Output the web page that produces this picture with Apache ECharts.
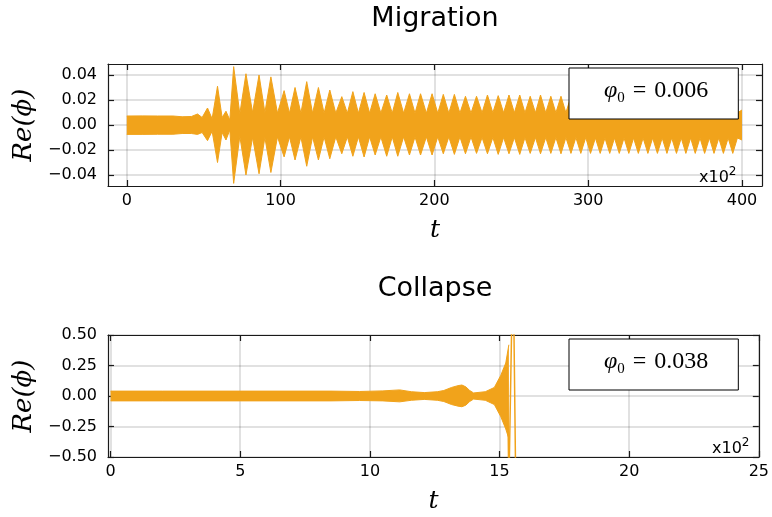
<!DOCTYPE html>
<html>
<head>
<meta charset="utf-8">
<script src="https://cdn.jsdelivr.net/npm/echarts@6/dist/echarts.min.js"></script>
<style>
  html, body { margin: 0; padding: 0; background: #fff; }
  #chart { width: 772px; height: 517px; }
</style>
</head>
<body>
<div id="chart"></div>
<script>
// t in units of 1e2, envelope of Re(phi) (peaks and troughs)
const migT = [0, 10, 20, 30, 36, 42, 46, 49, 52.5, 55.5, 59, 62, 64.5, 67, 69.5, 73.5, 77.5, 81.8, 86, 89.8,
  93.7, 98, 102.3, 105.8, 109.4, 113.2, 117, 120.8, 124.6, 128.3, 132, 135.9, 139.8, 143.4, 147, 150.6,
  154.3, 157.9, 161.5, 165.2, 169, 172.6, 176.2, 180, 183.8, 187.4, 191, 194.8, 198.5, 202.2, 205.8, 209.4,
  213, 216.6, 220.2, 223.8, 227.4, 231, 234.5, 238, 241.5, 245, 248.5, 252, 255.5, 258.9, 262.3, 265.7,
  269, 272.4, 275.7, 279, 282.3, 285.5, 288.8, 292, 295.2, 298.4, 301.5, 304.7, 307.8, 310.9, 314, 317.1,
  320.2, 323.3, 326.4, 329.5, 332.6, 335.7, 338.8, 341.9, 345, 348.1, 351.2, 354.3, 357.4, 360.5, 363.5,
  366.6, 369.6, 372.7, 375.7, 378.8, 381.8, 384.9, 387.9, 391, 394, 397, 400];
const migHi = [0.0072, 0.0073, 0.0072, 0.0072, 0.0066, 0.0068, 0.0088, 0.006, 0.0136, 0.005, 0.031, 0.006,
  0.011, 0.004, 0.0467, 0.009, 0.041, 0.01, 0.040, 0.01, 0.0385, 0.0095, 0.0275, 0.0095, 0.030, 0.0095,
  0.0347, 0.0095, 0.030, 0.0095, 0.028, 0.0095, 0.0227, 0.0095, 0.0267, 0.0095, 0.026, 0.0095, 0.025, 0.0095,
  0.024, 0.0095, 0.026, 0.0095, 0.025, 0.0095, 0.025, 0.0095, 0.025, 0.0095, 0.0245, 0.0095, 0.0245, 0.0095,
  0.023, 0.0095, 0.023, 0.0098, 0.024, 0.0098, 0.0235, 0.0098, 0.024, 0.0098, 0.024, 0.0098, 0.023, 0.0098,
  0.024, 0.0098, 0.023, 0.0098, 0.023, 0.0098, 0.023, 0.0098, 0.023, 0.0098, 0.023, 0.0098, 0.023, 0.0098,
  0.023, 0.0098, 0.023, 0.0098, 0.023, 0.0098, 0.023, 0.0098, 0.023, 0.0098, 0.023, 0.0098, 0.023, 0.0098,
  0.023, 0.0098, 0.023, 0.0098, 0.023, 0.0098, 0.023, 0.0098, 0.023, 0.0098, 0.023, 0.0098, 0.023, 0.0098, 0.012];
const migLo = [-0.0075, -0.0075, -0.0074, -0.0074, -0.0068, -0.0068, -0.0075, -0.006, -0.0125, -0.005, -0.030, -0.006,
  -0.012, -0.004, -0.0467, -0.009, -0.040, -0.01, -0.039, -0.01, -0.038, -0.0095, -0.0255, -0.0095, -0.028, -0.0095,
  -0.033, -0.0095, -0.028, -0.0095, -0.027, -0.0095, -0.023, -0.0095, -0.025, -0.0095, -0.0256, -0.0095, -0.024, -0.0095,
  -0.025, -0.0095, -0.025, -0.0095, -0.024, -0.0095, -0.024, -0.0095, -0.024, -0.0095, -0.023, -0.0095, -0.0235, -0.0095,
  -0.023, -0.0095, -0.0227, -0.0100, -0.023, -0.0100, -0.0235, -0.0100, -0.023, -0.0100, -0.0235, -0.0100, -0.0227, -0.0100,
  -0.023, -0.0100, -0.0227, -0.0100, -0.023, -0.0100, -0.0227, -0.0100, -0.0227, -0.0100, -0.0227, -0.0104, -0.0227, -0.0104,
  -0.0227, -0.0104, -0.0227, -0.0104, -0.0227, -0.0104, -0.0227, -0.0104, -0.0227, -0.0104, -0.0227, -0.0104, -0.0227, -0.0104,
  -0.0227, -0.0104, -0.0227, -0.0104, -0.0227, -0.0104, -0.0227, -0.0104, -0.0227, -0.0104, -0.0227, -0.0104, -0.0227, -0.0104, -0.012];

const colT  = [0, 2, 5, 8.5, 9.6, 10.5, 11.15, 11.6, 12.1, 12.6, 12.85, 13.15, 13.4, 13.55, 13.7, 13.85, 14.0,
  14.45, 14.8, 15.05, 15.24, 15.36];
const colHi = [0.04, 0.04, 0.04, 0.04, 0.037, 0.042, 0.05, 0.035, 0.028, 0.035, 0.045, 0.07, 0.085, 0.09, 0.075,
  0.045, 0.025, 0.035, 0.07, 0.17, 0.27, 0.42];
const colLo = [-0.04, -0.04, -0.04, -0.04, -0.037, -0.04, -0.048, -0.035, -0.028, -0.035, -0.045, -0.07, -0.083,
  -0.088, -0.075, -0.045, -0.025, -0.035, -0.07, -0.17, -0.27, -0.35];
// last swings, leaving the frame
const blowT = [15.30, 15.36, 15.52, 15.64];
const blowV = [0.3, -0.75, 1.2, -1.0];

const migTicksX = [0, 100, 200, 300, 400];
const migTicksY = [-0.04, -0.02, 0, 0.02, 0.04];
const colTicksX = [0, 5, 10, 15, 20, 25];
const colTicksY = [-0.5, -0.25, 0, 0.25, 0.5];

const ORANGE = "#f1a31b";
const GRID = "rgba(0,0,0,0.16)";
const AXIS = "#1a1a1a";
const SANS = "DejaVu Sans";
const SERIF = "DejaVu Serif";

const fmtY = (v) => {
  const r = Math.round(v * 100) / 100;
  if (Math.abs(r) < 1e-9) return "0.00";
  return r.toFixed(2).replace("-", "\u2212");
};

const tickStyle = { show: true, inside: true, length: 6, lineStyle: { color: AXIS, width: 1.2 } };
const lineStyle = { show: true, onZero: false, lineStyle: { color: AXIS, width: 1.2 } };

function xAxes(gridIndex, min, max, ticks) {
  return [{
    gridIndex, type: "value", position: "bottom", min, max,
    axisLine: lineStyle,
    axisTick: { ...tickStyle, customValues: ticks },
    axisLabel: { customValues: ticks, margin: 7, color: "#000", fontFamily: SANS, fontSize: 16,
      formatter: (v) => String(Math.round(v)) },
    splitLine: { show: true, lineStyle: { color: GRID, width: 1.5 } },
    name: "t", nameLocation: "middle", nameGap: 32,
    nameTextStyle: { fontFamily: SERIF, fontStyle: "italic", fontSize: 25, color: "#000" },
  }, {
    gridIndex, type: "value", position: "top", min, max,
    axisLine: lineStyle,
    axisTick: { ...tickStyle, customValues: ticks },
    axisLabel: { show: false }, splitLine: { show: false },
  }];
}

function yAxes(gridIndex, min, max, ticks) {
  return [{
    gridIndex, type: "value", position: "left", min, max,
    axisLine: lineStyle,
    axisTick: { ...tickStyle, customValues: ticks },
    axisLabel: { customValues: ticks, margin: 11, color: "#000", fontFamily: SANS, fontSize: 16, formatter: fmtY },
    splitLine: { show: true, lineStyle: { color: GRID, width: 1.5 } },
    name: "Re(\u03d5)", nameLocation: "middle", nameRotate: 90, nameGap: 70,
    nameTextStyle: { fontFamily: SERIF, fontStyle: "italic", fontSize: 26, color: "#000" },
  }, {
    gridIndex, type: "value", position: "right", min, max,
    axisLine: lineStyle,
    axisTick: { ...tickStyle, customValues: ticks },
    axisLabel: { show: false }, splitLine: { show: false },
  }];
}

function band(name, xi, yi, ts, vs) {
  return {
    name, type: "line", xAxisIndex: xi, yAxisIndex: yi,
    data: ts.map((t, i) => [t, vs[i]]),
    symbol: "none", lineStyle: { color: ORANGE, width: 1 },
    areaStyle: { color: ORANGE, opacity: 1 }, itemStyle: { color: ORANGE },
  };
}

const LSERIF = "Liberation Serif";
const legendRich = {
  p: { fontFamily: LSERIF, fontStyle: "italic", fontSize: 24, lineHeight: 30, verticalAlign: "middle", color: "#000" },
  s: { fontFamily: LSERIF, fontSize: 15, lineHeight: 15, verticalAlign: "bottom", color: "#000" },
  q: { fontFamily: LSERIF, fontSize: 24, lineHeight: 30, verticalAlign: "middle", color: "#000", padding: [0, 8, 0, 8] },
  e: { fontFamily: LSERIF, fontSize: 24, lineHeight: 30, verticalAlign: "middle", color: "#000" },
};
function legend(name, top) {
  return {
    data: [{ name, icon: "none" }], left: 569, top, itemWidth: 0, itemHeight: 0,
    padding: [11, 30, 13, 30], backgroundColor: "#fff", borderColor: "#000", borderWidth: 1,
    selectedMode: false,
    formatter: (n) => "{p|\u03c6}{s|0}{q|=}{e|" + n.split("=")[1].trim() + "}",
    textStyle: { rich: legendRich },
  };
}

const supRich = {
  a: { fontFamily: SANS, fontSize: 16, verticalAlign: "bottom", lineHeight: 20, fill: "#000" },
  b: { fontFamily: SANS, fontSize: 12, verticalAlign: "top", lineHeight: 20, fill: "#000" },
};

const chart = echarts.init(document.getElementById("chart"), null, { renderer: "canvas" });
chart.setOption({
  animation: false,
  backgroundColor: "#fff",
  title: [
    { text: "Migration", left: 430, top: 0, textAlign: "center",
      textStyle: { fontFamily: SANS, fontSize: 27, fontWeight: "normal", color: "#000" } },
    { text: "Collapse", left: 430, top: 270, textAlign: "center",
      textStyle: { fontFamily: SANS, fontSize: 27, fontWeight: "normal", color: "#000" } },
  ],
  grid: [
    { left: 108, top: 64, width: 654, height: 122 },
    { left: 108, top: 335, width: 654, height: 122 },
  ],
  xAxis: [...xAxes(0, -12.2, 413, migTicksX), ...xAxes(1, -0.1, 25, colTicksX)],
  yAxis: [...yAxes(0, -0.0488, 0.0488, migTicksY), ...yAxes(1, -0.5, 0.5, colTicksY)],
  legend: [legend("phi0 = 0.006", 68), legend("phi0 = 0.038", 339)],
  series: [
    band("phi0 = 0.006", 0, 0, migT, migHi),
    band("phi0 = 0.006", 0, 0, migT, migLo),
    band("phi0 = 0.038", 2, 2, colT, colHi),
    band("phi0 = 0.038", 2, 2, colT, colLo),
    { name: "phi0 = 0.038", type: "line", xAxisIndex: 2, yAxisIndex: 2,
      data: blowT.map((t, i) => [t, blowV[i]]), symbol: "none", clip: true,
      lineStyle: { color: ORANGE, width: 1.5 } },
  ],
  graphic: [
    { type: "text", left: 699, top: 166, style: { text: "{a|x10}{b|2}", rich: supRich } },
    { type: "text", left: 712, top: 437, style: { text: "{a|x10}{b|2}", rich: supRich } },
  ],
});
</script>
</body>
</html>
